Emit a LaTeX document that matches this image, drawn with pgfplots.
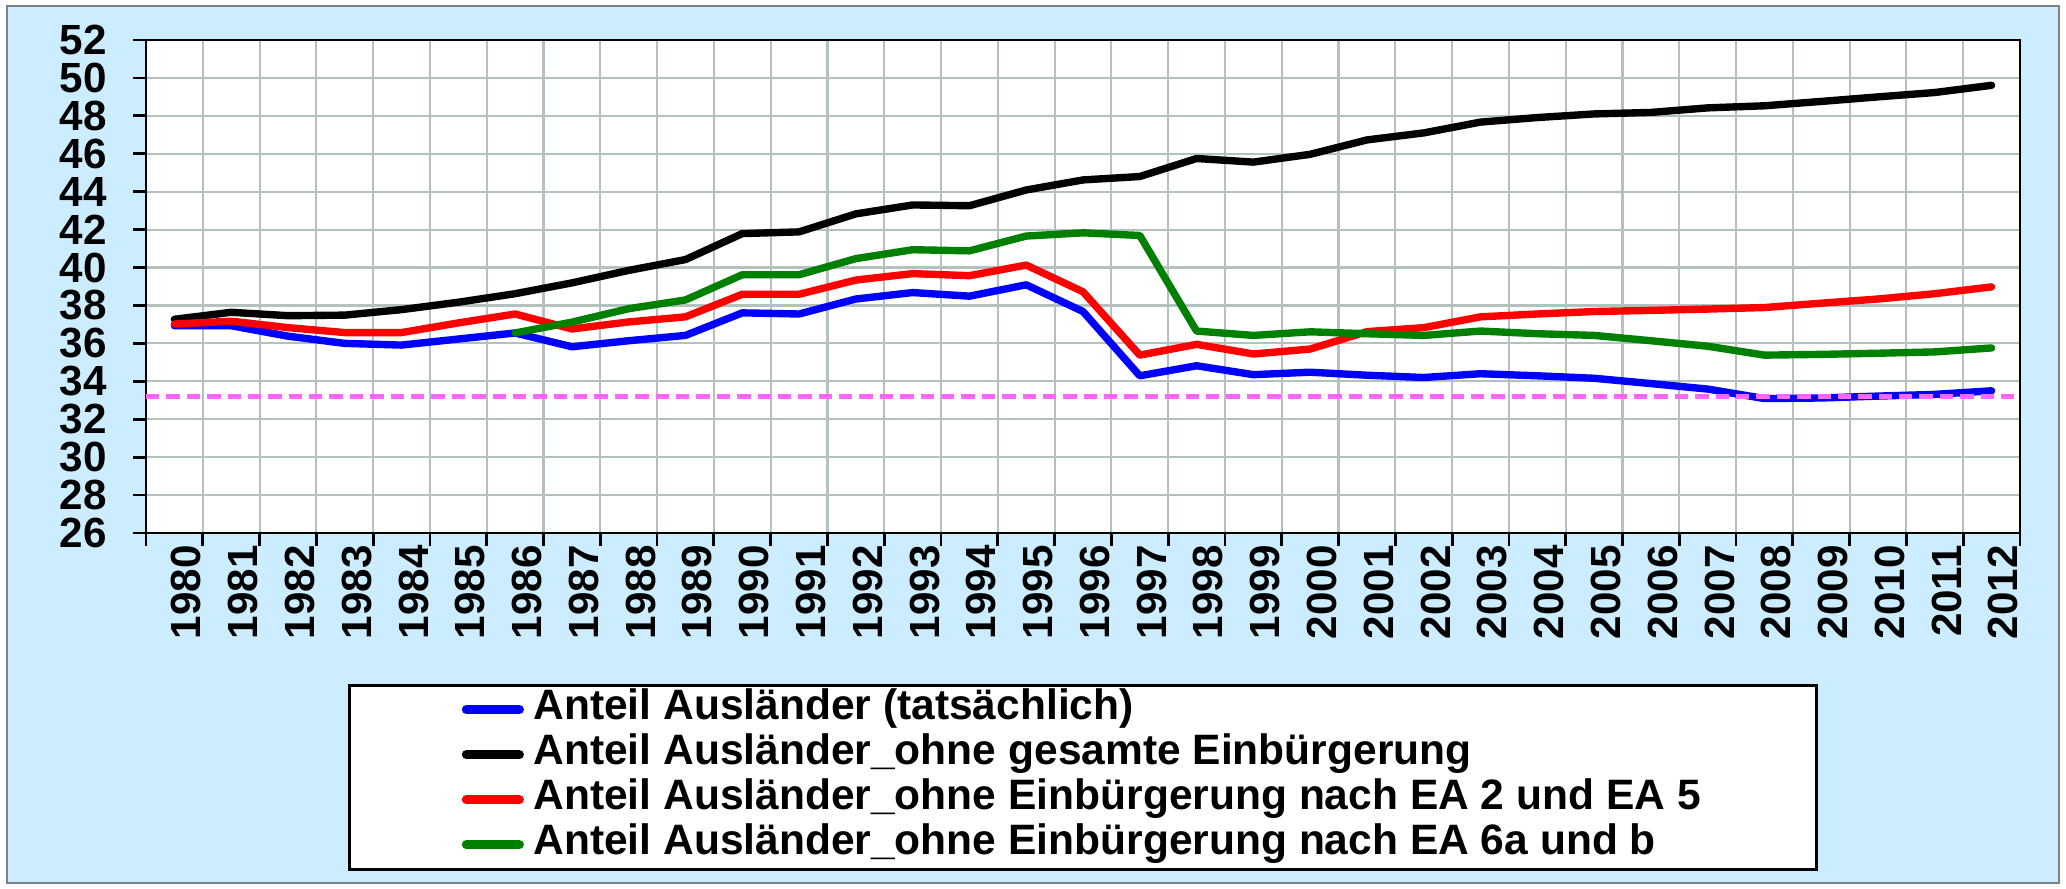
\documentclass[border=0pt]{standalone}
\usepackage{fontspec}
\setmainfont{Liberation Sans}
\usepackage{pgfplots}
\pgfplotsset{compat=1.18}

\definecolor{bgblue}{RGB}{204,236,255}
\definecolor{gridc}{RGB}{180,194,191}
\definecolor{refpink}{RGB}{255,102,255}
\definecolor{sgreen}{RGB}{0,128,0}

\begin{document}
\begin{tikzpicture}
\useasboundingbox (0,0) rectangle (20.66,8.89);
\fill[white] (0,0) rectangle (20.66,8.89);
\filldraw[fill=bgblue, draw=gray, line width=0.6pt] (0.07,0.06) rectangle (20.59,8.83);
\begin{axis}[
    at={(1.46cm,3.56cm)}, anchor=south west,
    width=18.74cm, height=4.93cm, scale only axis,
    axis background/.style={fill=white},
    axis line style={black, line width=0.8pt},
    xmin=1979.5, xmax=2012.5,
    ymin=26, ymax=52,
    xtick={1979.5,1980.5,...,2012.5},
    xticklabels={},
    extra x ticks={1980,...,2012},
    extra x tick style={major tick length=0pt, grid=none,
        xticklabel={\pgfmathprintnumber[/pgf/number format/1000 sep=]{\tick}}},
    ytick={26,28,...,52},
    xtick pos=bottom, ytick pos=left,
    tick align=outside,
    major tick length=0.13cm,
    tick style={black, line width=0.8pt},
    xmajorgrids=true, ymajorgrids=true,
    grid style={gridc, line width=0.6pt},
    /pgf/number format/assume math mode=true,
    tick label style={font=\bfseries\fontsize{12}{14}\selectfont},
    x tick label style={rotate=90, anchor=east, yshift=-0.12cm},
    y tick label style={xshift=-0.14cm},
    legend style={
        at={(0.5,-0.306)}, anchor=north,
        draw=black, line width=0.8pt, fill=white,
        inner xsep=1.12cm, inner ysep=0.02cm,
        font=\bfseries\fontsize{12.1}{14}\selectfont,
        nodes={text height=0.29cm, text depth=0.09cm, inner sep=0.035cm},
    },
    legend cell align=left,
    legend image code/.code={\draw[#1, line width=2.6pt, line cap=round] (0cm,0cm) -- (0.53cm,0cm);},
    every axis plot/.append style={line width=2.1pt, line join=round, line cap=round},
]

\addplot[blue] coordinates {
    (1980,36.93) (1981,36.93) (1982,36.38) (1983,36.00) (1984,35.91)
    (1985,36.23) (1986,36.55) (1987,35.82) (1988,36.14) (1989,36.42)
    (1990,37.61) (1991,37.55) (1992,38.34) (1993,38.68) (1994,38.49)
    (1995,39.09) (1996,37.68) (1997,34.29) (1998,34.82) (1999,34.35)
    (2000,34.48) (2001,34.32) (2002,34.20) (2003,34.40) (2004,34.29)
    (2005,34.16) (2006,33.88) (2007,33.59) (2008,33.09) (2009,33.12)
    (2010,33.22) (2011,33.31) (2012,33.50)
};
\addlegendentry{\hspace{0.06cm}Anteil Ausländer (tatsächlich)}

\addplot[black] coordinates {
    (1980,37.27) (1981,37.64) (1982,37.46) (1983,37.49) (1984,37.78)
    (1985,38.17) (1986,38.62) (1987,39.19) (1988,39.85) (1989,40.42)
    (1990,41.79) (1991,41.88) (1992,42.83) (1993,43.30) (1994,43.26)
    (1995,44.09) (1996,44.62) (1997,44.80) (1998,45.75) (1999,45.56)
    (2000,45.97) (2001,46.73) (2002,47.10) (2003,47.67) (2004,47.91)
    (2005,48.10) (2006,48.18) (2007,48.42) (2008,48.53) (2009,48.76)
    (2010,49.00) (2011,49.23) (2012,49.61)
};
\addlegendentry{\hspace{0.06cm}Anteil Ausländer\_ohne gesamte Einbürgerung}

\addplot[red] coordinates {
    (1980,37.02) (1981,37.17) (1982,36.83) (1983,36.57) (1984,36.57)
    (1985,37.08) (1986,37.55) (1987,36.76) (1988,37.13) (1989,37.40)
    (1990,38.59) (1991,38.59) (1992,39.34) (1993,39.68) (1994,39.57)
    (1995,40.13) (1996,38.72) (1997,35.38) (1998,35.95) (1999,35.44)
    (2000,35.70) (2001,36.62) (2002,36.83) (2003,37.40) (2004,37.55)
    (2005,37.68) (2006,37.74) (2007,37.81) (2008,37.89) (2009,38.12)
    (2010,38.34) (2011,38.62) (2012,38.98)
};
\addlegendentry{\hspace{0.06cm}Anteil Ausländer\_ohne Einbürgerung nach EA 2 und EA 5}

\addplot[sgreen] coordinates {
    (1986,36.55) (1987,37.12) (1988,37.83) (1989,38.29)
    (1990,39.62) (1991,39.62) (1992,40.47) (1993,40.94) (1994,40.88)
    (1995,41.66) (1996,41.83) (1997,41.69) (1998,36.65) (1999,36.42)
    (2000,36.61) (2001,36.51) (2002,36.42) (2003,36.65) (2004,36.51)
    (2005,36.42) (2006,36.14) (2007,35.85) (2008,35.38) (2009,35.42)
    (2010,35.48) (2011,35.55) (2012,35.76)
};
\addlegendentry{\hspace{0.06cm}Anteil Ausländer\_ohne Einbürgerung nach EA 6a und b}

% reference line
\addplot[refpink, line width=1.3pt, dash pattern=on 3.8pt off 2pt, line cap=butt, forget plot]
    coordinates {(1979.5,33.2) (2012.5,33.2)};

\end{axis}
\end{tikzpicture}
\end{document}
